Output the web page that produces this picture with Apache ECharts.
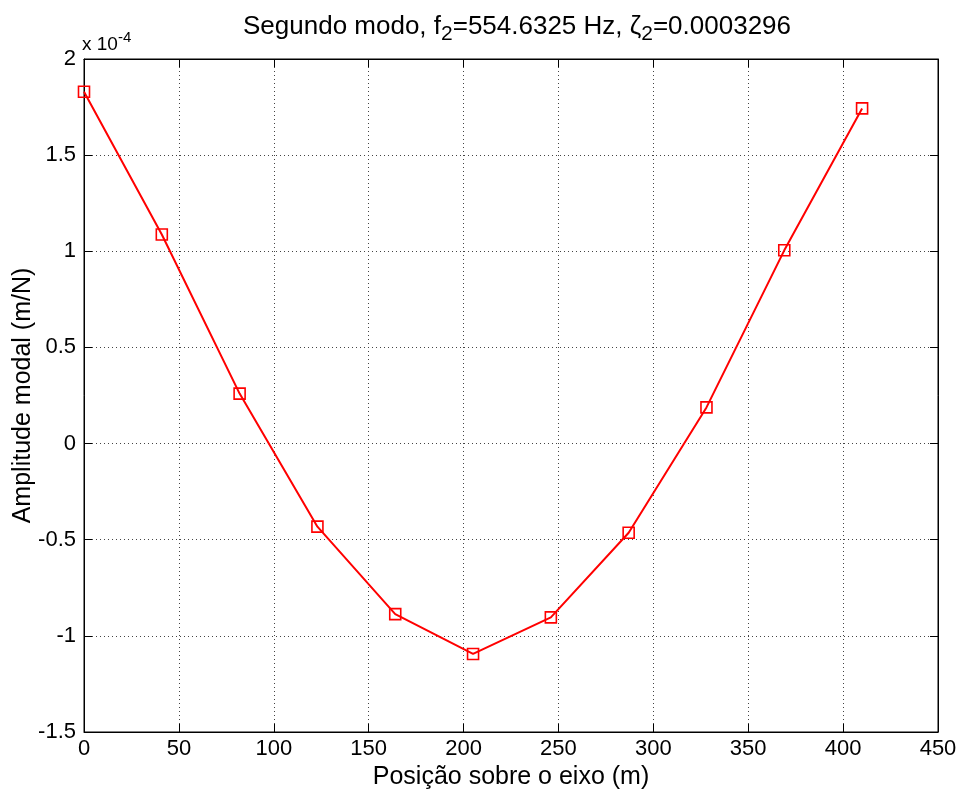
<!DOCTYPE html>
<html>
<head>
<meta charset="utf-8">
<script src="https://cdn.jsdelivr.net/npm/echarts@6/dist/echarts.min.js"></script>
<style>
  html, body { margin: 0; padding: 0; background: #fff; }
  #chart { width: 959px; height: 793px; }
</style>
</head>
<body>
<div id="chart"></div>
<script>
// posição sobre o eixo (m)
const posicao = [0, 41, 82, 123, 164, 205, 246, 287, 328, 369, 410]
// amplitude modal (x 10^-4 m/N)
const amplitude = [1.83, 1.087, 0.26, -0.432, -0.887, -1.094, -0.904, -0.464, 0.188, 1.005, 1.743]
const yTicks = [-1.5, -1, -0.5, 0, 0.5, 1, 1.5, 2]

const fonte = 'Liberation Sans, Arial, sans-serif'
const pontos = posicao.map((x, i) => [x, amplitude[i]])

const chart = echarts.init(document.getElementById('chart'))

const gridLine = { show: true, lineStyle: { color: '#444', type: [1, 3], width: 1 } }
const eixo = { show: true, onZero: false, lineStyle: { color: '#000', width: 1 } }
const tick = { inside: true, length: 8, lineStyle: { color: '#000' } }

const option = {
  animation: false,
  backgroundColor: '#fff',
  title: {
    text: 'Segundo modo, f{sub|2}=554.6325 Hz, ζ{sub|2}=0.0003296',
    left: 512,
    textAlign: 'center',
    top: 3,
    textStyle: {
      fontFamily: fonte,
      fontSize: 26,
      fontWeight: 'normal',
      color: '#000',
      rich: {
        sub: { fontFamily: fonte, fontSize: 21, verticalAlign: 'bottom', padding: [16, 0, 0, 0], color: '#000' }
      }
    }
  },
  grid: {
    left: 84,
    right: 21,
    top: 59,
    bottom: 61,
    containLabel: false,
    outerBoundsMode: 'none',
    show: true,
    borderColor: '#000',
    borderWidth: 1
  },
  xAxis: [
    {
      type: 'value',
      min: 0,
      max: 450,
      interval: 50,
      name: 'Posição sobre o eixo (m)',
      nameLocation: 'middle',
      nameGap: 33,
      nameMoveOverlap: false,
      nameTextStyle: { fontFamily: fonte, fontSize: 25, color: '#000' },
      axisLine: eixo,
      axisTick: tick,
      axisLabel: { fontFamily: fonte, fontSize: 22, color: '#000', margin: 6 },
      splitLine: gridLine
    },
    {
      type: 'value',
      position: 'top',
      min: 0,
      max: 450,
      interval: 50,
      axisLine: eixo,
      axisTick: tick,
      axisLabel: { show: false },
      splitLine: { show: false }
    }
  ],
  yAxis: [
    {
      type: 'value',
      min: -1.5,
      max: 2,
      interval: 0.5,
      name: 'Amplitude modal (m/N)',
      nameLocation: 'middle',
      nameGap: 48,
      nameMoveOverlap: false,
      nameTextStyle: { fontFamily: fonte, fontSize: 25, color: '#000' },
      axisLine: eixo,
      axisTick: tick,
      axisLabel: {
        fontFamily: fonte,
        fontSize: 22,
        color: '#000',
        margin: 8,
        formatter: (v) => (yTicks.includes(v) ? String(v) : '')
      },
      splitLine: gridLine
    },
    {
      type: 'value',
      position: 'right',
      min: -1.5,
      max: 2,
      interval: 0.5,
      axisLine: eixo,
      axisTick: tick,
      axisLabel: { show: false },
      splitLine: { show: false }
    }
  ],
  graphic: [
    {
      type: 'text',
      left: 82,
      top: 30,
      style: {
        text: 'x 10{sup|-4}',
        fontFamily: fonte,
        fontSize: 19,
        fill: '#000',
        rich: {
          sup: { fontFamily: fonte, fontSize: 15, verticalAlign: 'top', padding: [0, 0, 14, 0], fill: '#000' }
        }
      }
    }
  ],
  series: [
    {
      type: 'line',
      data: pontos,
      symbol: 'rect',
      symbolSize: 11,
      showAllSymbol: true,
      lineStyle: { color: '#ff0000', width: 2 },
      itemStyle: { color: 'rgba(255,255,255,0)', borderColor: '#ff0000', borderWidth: 1.6 }
    }
  ]
}

chart.setOption(option)
</script>
</body>
</html>
